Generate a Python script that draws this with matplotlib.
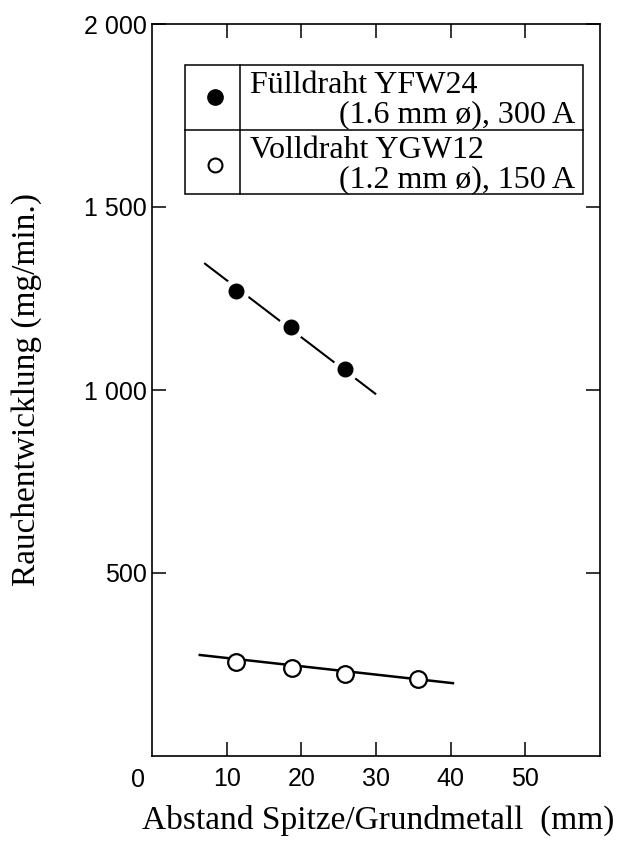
import matplotlib
matplotlib.use("Agg")
import matplotlib.pyplot as plt
from matplotlib.patches import Rectangle

# Fülldraht YFW24 (1.6 mm), 300 A
fcw_x = [11.3, 18.6, 25.8]
fcw_y = [1271, 1171, 1057]
fcw_fit_x = [7.1, 29.9]
fcw_fit_y = [1345, 990]

# Volldraht YGW12 (1.2 mm), 150 A
solid_x = [11.3, 18.8, 25.9, 35.6]
solid_y = [256, 240, 223, 210]
solid_fit_x = [6.4, 40.3]
solid_fit_y = [276, 199]

x_ticks = [10, 20, 30, 40, 50]
y_ticks = [500, 1000, 1500, 2000]
y_tick_labels = ['500', '1 000', '1 500', '2 000']

legend_rows = [
    ('Fülldraht YFW24', '(1.6 mm ø), 300 A'),
    ('Volldraht YGW12', '(1.2 mm ø), 150 A'),
]

serif = 'Liberation Serif'
sans = 'Liberation Sans'

fig = plt.figure(figsize=(6.21, 8.43), dpi=100)
ax = fig.add_axes([152 / 621, 1 - 756 / 843, 448 / 621, 732 / 843])

ax.set_xlim(0, 60)
ax.set_ylim(0, 2000)

# regression lines
ax.plot(fcw_fit_x, fcw_fit_y, color='black', lw=1.5, zorder=2)
ax.plot(solid_fit_x, solid_fit_y, color='black', lw=1.8, zorder=2)

# filled points, with a white gap around them on the line
ax.plot(fcw_x, fcw_y, 'o', ms=19, color='white', mec='none', zorder=3)
ax.plot(fcw_x, fcw_y, 'o', ms=10.5, color='black', zorder=4)
ax.plot(solid_x, solid_y, 'o', ms=12, mfc='white', mec='black', mew=1.6, zorder=4)

for s in ax.spines.values():
    s.set_linewidth(1.2)

ax.set_xticks(x_ticks)
ax.set_xticklabels([str(t) for t in x_ticks], fontfamily=sans, fontsize=18)
ax.set_yticks(y_ticks)
ax.set_yticklabels(y_tick_labels, fontfamily=sans, fontsize=18)
ax.tick_params(direction='in', length=10, width=1.1, top=True, right=True)
ax.tick_params(axis='x', pad=8)
ax.tick_params(axis='y', pad=4)
ax.annotate('0', xy=(0, 0), xytext=(-10, -8.5), textcoords='offset points',
            ha='center', va='top', fontfamily=sans, fontsize=18)

ax.set_xlabel('Abstand Spitze/Grundmetall  (mm)', fontfamily=serif, fontsize=24)
ax.xaxis.set_label_coords(0.505, -0.066)
ax.set_ylabel('Rauchentwicklung (mg/min.)', fontfamily=serif, fontsize=24)
ax.yaxis.set_label_coords(-0.245, 0.5)

# legend drawn as a small table
x0, x1, xdiv = 0.073, 0.962, 0.196
y0, y1, ymid = 0.768, 0.944, 0.855
ax.add_patch(Rectangle((x0, y0), x1 - x0, y1 - y0, transform=ax.transAxes,
                       facecolor='white', edgecolor='black', lw=1.1, zorder=5))
ax.plot([xdiv, xdiv], [y0, y1], color='black', lw=1.1, transform=ax.transAxes, zorder=6)
ax.plot([x0, x1], [ymid, ymid], color='black', lw=1.1, transform=ax.transAxes, zorder=6)

ax.plot([0.14], [0.900], 'o', ms=11, color='black', transform=ax.transAxes,
        clip_on=False, zorder=7)
ax.plot([0.14], [0.807], 'o', ms=10, mfc='white', mec='black', mew=1.5,
        transform=ax.transAxes, clip_on=False, zorder=7)

row_tops = [y1, ymid]
for (line1, line2), top in zip(legend_rows, row_tops):
    ax.text(0.218, top - 0.038, line1, transform=ax.transAxes, ha='left',
            va='baseline', fontfamily=serif, fontsize=23, zorder=7)
    ax.text(0.944, top - 0.078, line2, transform=ax.transAxes, ha='right',
            va='baseline', fontfamily=serif, fontsize=23, zorder=7)

fig.savefig('out.png', dpi=100)
